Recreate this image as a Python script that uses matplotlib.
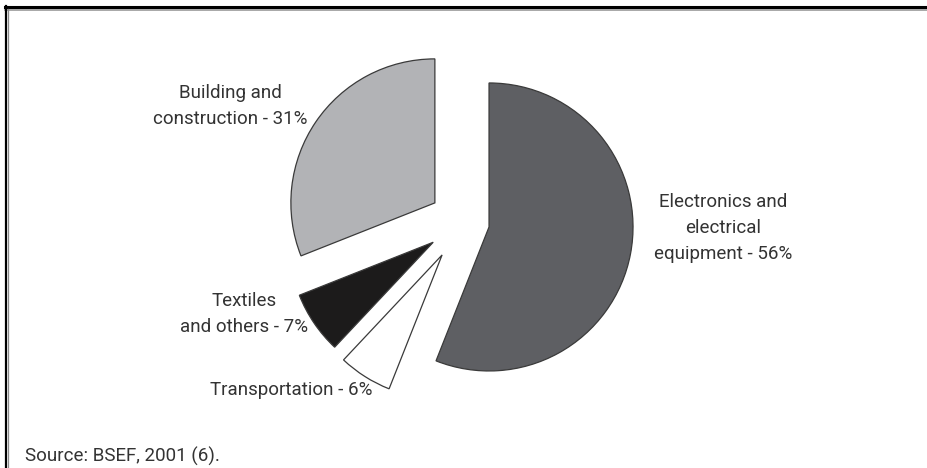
import matplotlib
matplotlib.use("Agg")
import matplotlib.pyplot as plt
from matplotlib.lines import Line2D

# Brominated flame retardant use by sector (BSEF, 2001)
sectors = ["Electronics and\nelectrical\nequipment", "Transportation",
           "Textiles\nand others", "Building and\nconstruction"]
shares = [56, 6, 7, 31]
colors = ["#5e5f63", "#ffffff", "#1c1b1b", "#b2b3b6"]

W, H = 928, 468
fig = plt.figure(figsize=(W / 100, H / 100), dpi=100)
ax = fig.add_axes([0, 0, 1, 1])

# pie drawn in pixel-like data units
center = (463, H - 222)
radius = 144
explode = [26.5, 39, 36, 34]

wedges, _ = ax.pie(shares, colors=colors, explode=explode, center=center,
                   radius=radius, startangle=90, counterclock=False,
                   wedgeprops=dict(edgecolor="#3a3a3a", linewidth=0.9),
                   frame=True)
ax.set_xlim(0, W)
ax.set_ylim(0, H)
ax.set_aspect("equal")
ax.axis("off")

font = dict(family=["Roboto", "DejaVu Sans"], fontsize=13.5, color="#333333")
label_pos = [(723, H - 228), (291, H - 390), (244, H - 314), (230, H - 106)]
for name, share, (lx, ly) in zip(sectors, shares, label_pos):
    ax.text(lx, ly, f"{name} - {share}%", ha="center", va="center",
            linespacing=1.6, **font)

ax.text(25, H - 456, "Source: BSEF, 2001 (6).", ha="left", va="center", **font)

# frame lines along the top and left edges
fig.add_artist(Line2D([5 / W, 1], [1 - 7 / H, 1 - 7 / H], color="black",
                      linewidth=2.2, transform=fig.transFigure))
fig.add_artist(Line2D([5 / W, 1], [1 - 9.5 / H, 1 - 9.5 / H], color="#9a9a9a",
                      linewidth=1.2, transform=fig.transFigure))
fig.add_artist(Line2D([6 / W, 6 / W], [0, 1 - 6 / H], color="black",
                      linewidth=1.6, transform=fig.transFigure))
fig.add_artist(Line2D([8.5 / W, 8.5 / W], [0, 1 - 9 / H], color="#8a8a8a",
                      linewidth=0.9, transform=fig.transFigure))

fig.savefig("out.png", dpi=100)
